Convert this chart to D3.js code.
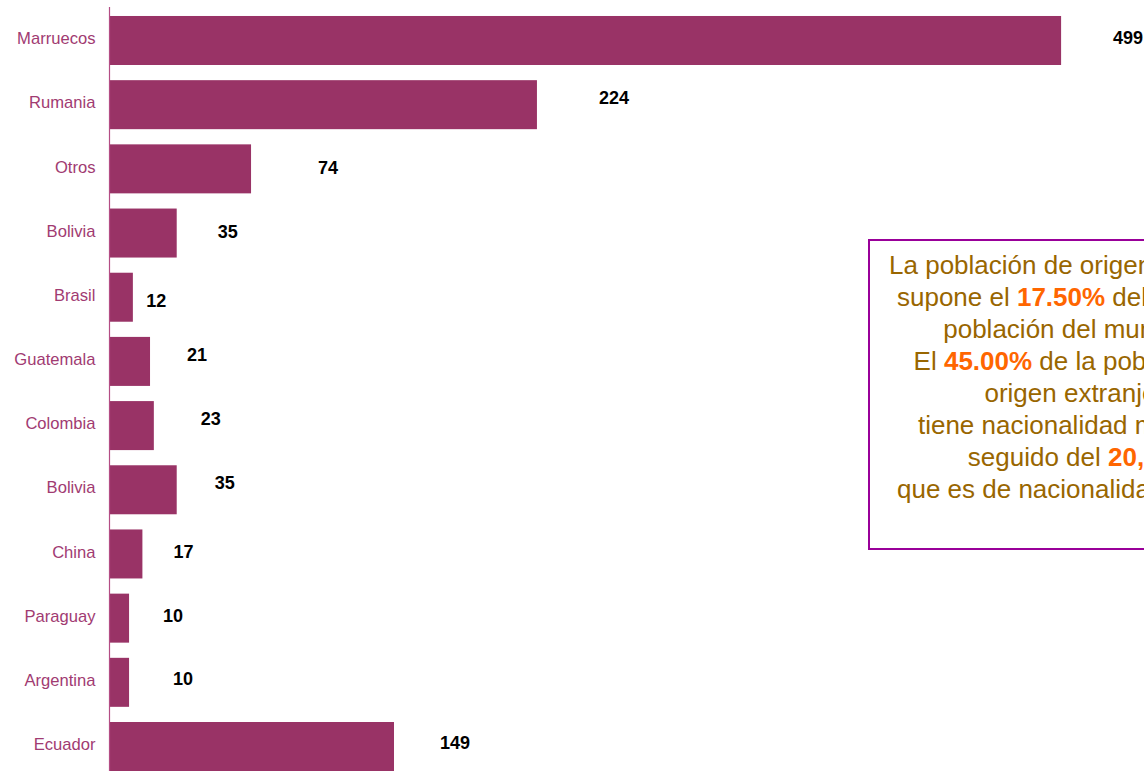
<!DOCTYPE html>
<html>
<head>
<meta charset="utf-8">
<script src="https://cdn.jsdelivr.net/npm/d3@7/dist/d3.min.js"></script>
<style>
  html, body { margin: 0; padding: 0; background: #fff; overflow: hidden; }
  svg { display: block; }
</style>
</head>
<body>
<svg id="chart" width="1144" height="771"></svg>
<script>
// Población de origen extranjero por nacionalidad
const categories = ["Marruecos", "Rumania", "Otros", "Bolivia", "Brasil", "Guatemala",
                    "Colombia", "Bolivia", "China", "Paraguay", "Argentina", "Ecuador"];
const values = [499, 224, 74, 35, 12, 21, 23, 35, 17, 10, 10, 149];

// Texto del recuadro: cada línea es una lista de fragmentos [texto, resaltado]
const noteLines = [
  [["La población de origen extranjero", false]],
  [["supone el ", false], ["17.50%", true], [" del total de la", false]],
  [["población del municipio.", false]],
  [["El ", false], ["45.00%", true], [" de la población de", false]],
  [["origen extranjero", false]],
  [["tiene nacionalidad marroquí,", false]],
  [["seguido del ", false], ["20,20%", true]],
  [["que es de nacionalidad rumana.", false]]
];

// Ajuste manual de la posición de cada etiqueta de valor (px: desde el final de la barra)
const labelNudge = [[67, -2.5], [77, -7.5], [77, -1.5], [51, -1.5], [23.5, 3.5], [47, -6.5],
                    [57, -7], [48, -7], [41, -2], [44, -3], [54, -4], [61, -3.5]];

const W = 1144, H = 771;
const svg = d3.select("#chart");

const idx = d3.range(categories.length);
const y = d3.scaleBand().domain(idx).range([8.4, 778.6])
  .paddingInner(0.2365).paddingOuter(0.2365 / 2);
const x = d3.scaleLinear().domain([0, 600]).range([110, 110 + 600 * 1.906]);

const barColor = "#993366";

// Barras
svg.append("g").selectAll("rect").data(idx).join("rect")
  .attr("x", x(0))
  .attr("y", i => y(i))
  .attr("width", i => x(values[i]) - x(0))
  .attr("height", y.bandwidth())
  .attr("fill", barColor);

// Eje de categorías
const yAxis = d3.axisLeft(y).tickSize(0).tickPadding(14).tickFormat(i => categories[i]);
const gy = svg.append("g").attr("transform", `translate(${x(0) - 0.5},0)`).call(yAxis);
gy.select(".domain").attr("stroke", "#b44d85").attr("stroke-width", 1.2)
  .attr("d", `M0,7V${H + 10}`);
gy.selectAll(".tick text")
  .attr("fill", "#a13b72")
  .attr("font-family", "Liberation Sans, Arial, sans-serif")
  .attr("font-size", 16.6)
  .attr("dy", "0.22em");

// Etiquetas de valor
svg.append("g").selectAll("text").data(idx).join("text")
  .attr("x", i => x(values[i]) + labelNudge[i][0])
  .attr("y", i => y(i) + y.bandwidth() / 2 + labelNudge[i][1])
  .attr("dy", "0.36em")
  .attr("text-anchor", "middle")
  .attr("font-family", "Liberation Sans, Arial, sans-serif")
  .attr("font-weight", "bold")
  .attr("font-size", 18)
  .attr("fill", "#000")
  .text(i => values[i]);

// Recuadro de texto
const box = svg.append("g");
box.append("rect")
  .attr("x", 869).attr("y", 240)
  .attr("width", 426).attr("height", 309)
  .attr("fill", "#fff")
  .attr("stroke", "#990099").attr("stroke-width", 2);

const noteCx = 1082, noteTop = 274, lineStep = 32;
const noteText = box.append("text")
  .attr("text-anchor", "middle")
  .attr("font-family", "Liberation Sans, Arial, sans-serif")
  .attr("font-size", 26)
  .attr("fill", "#996600");
noteLines.forEach((parts, li) => {
  const line = noteText.append("tspan")
    .attr("x", noteCx)
    .attr("y", noteTop + li * lineStep);
  parts.forEach(([t, hi]) => {
    const s = line.append("tspan").text(t);
    if (hi) s.attr("fill", "#ff6600").attr("font-weight", "bold");
  });
});
</script>
</body>
</html>
